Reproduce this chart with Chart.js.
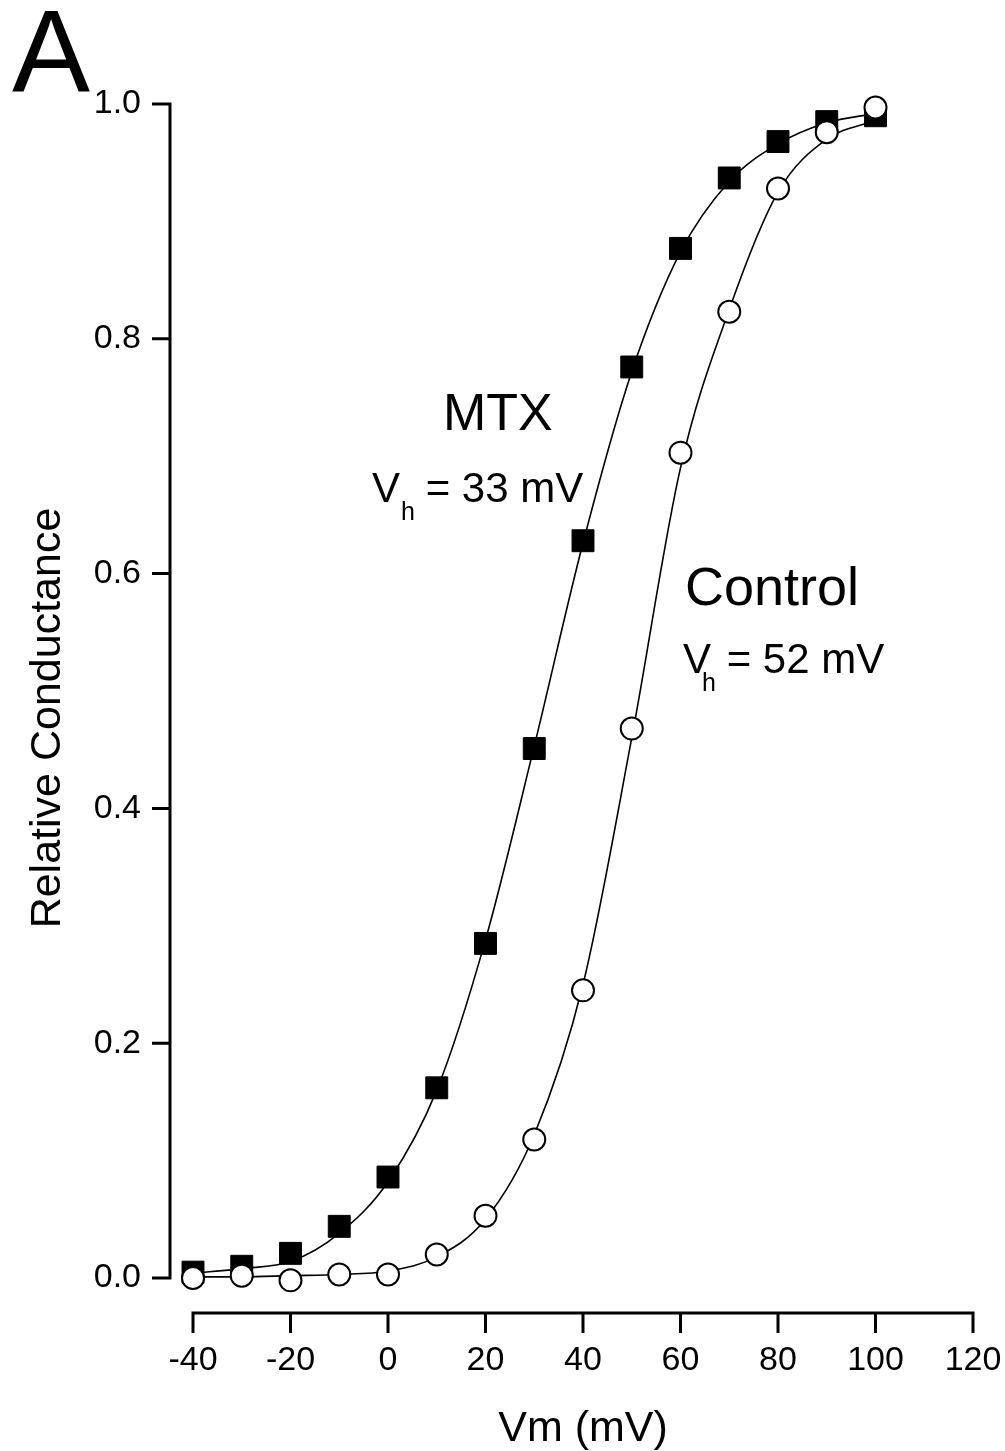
<!DOCTYPE html>
<html>
<head>
<meta charset="utf-8">
<script src="https://cdn.jsdelivr.net/npm/chart.js@4.4.0/dist/chart.umd.min.js"></script>
<style>
  html, body { margin: 0; padding: 0; background: #fff; overflow: hidden; }
  #wrap { width: 1005px; height: 1451px; position: relative; }
  canvas { display: block; }
</style>
</head>
<body>
<div id="wrap"><canvas id="gvChart"></canvas></div>
<script>
// membrane potential steps (mV)
const voltages = [-40, -30, -20, -10, 0, 10, 20, 30, 40, 50, 60, 70, 80, 90, 100];

// measured relative conductance
const controlG = [0.000, 0.002, -0.002, 0.003, 0.003, 0.020, 0.053, 0.118, 0.245, 0.468, 0.703, 0.823, 0.928, 0.976, 0.997];
const mtxG     = [0.005, 0.010, 0.021, 0.044, 0.086, 0.162, 0.285, 0.451, 0.628, 0.776, 0.877, 0.937, 0.968, 0.985, 0.990];

// Boltzmann fit curves at the same voltages
const controlFit = [0.001, 0.001, 0.002, 0.003, 0.006, 0.018, 0.050, 0.122, 0.250, 0.460, 0.690, 0.825, 0.925, 0.970, 0.986];
const mtxFit     = [0.004, 0.008, 0.014, 0.038, 0.082, 0.160, 0.288, 0.453, 0.626, 0.772, 0.874, 0.934, 0.966, 0.984, 0.992];

// axis ticks
const xTicks = [-40, -20, 0, 20, 40, 60, 80, 100, 120];
const yTicks = [0.0, 0.2, 0.4, 0.6, 0.8, 1.0];

const FONT = "'Liberation Sans', Arial, Helvetica, sans-serif";

function toXY(ys) {
    return voltages.map((v, i) => ({ x: v, y: ys[i] }));
}

// axes drawn detached from the plot area, like the original figure
const offsetAxes = {
    id: 'offsetAxes',
    afterDraw(chart) {
        const ctx = chart.ctx;
        const xs = chart.scales.x;
        const ys = chart.scales.y;
        const area = chart.chartArea;
        const axX = area.left - 23;
        const axY = area.bottom + 35;

        ctx.save();
        ctx.strokeStyle = '#000';
        ctx.lineWidth = 3;
        ctx.lineCap = 'butt';

        // y axis
        ctx.beginPath();
        ctx.moveTo(axX, ys.getPixelForValue(yTicks[yTicks.length - 1]) - 1.5);
        ctx.lineTo(axX, ys.getPixelForValue(yTicks[0]) + 1.5);
        yTicks.forEach(t => {
            const py = ys.getPixelForValue(t);
            ctx.moveTo(axX - 18, py);
            ctx.lineTo(axX, py);
        });
        ctx.stroke();

        // x axis
        ctx.beginPath();
        ctx.moveTo(xs.getPixelForValue(xTicks[0]) - 1.5, axY);
        ctx.lineTo(xs.getPixelForValue(xTicks[xTicks.length - 1]) + 1.5, axY);
        xTicks.forEach(t => {
            const px = xs.getPixelForValue(t);
            ctx.moveTo(px, axY);
            ctx.lineTo(px, axY + 20);
        });
        ctx.stroke();

        // y title
        ctx.fillStyle = '#000';
        ctx.font = '43px ' + FONT;
        ctx.textAlign = 'center';
        ctx.textBaseline = 'alphabetic';
        ctx.translate(60, 718);
        ctx.rotate(-Math.PI / 2);
        ctx.fillText('Relative Conductance', 0, 0);
        ctx.restore();
    }
};

function drawVh(ctx, x, y, hx, restX, rest) {
    ctx.font = '42px ' + FONT;
    ctx.fillText('V', x, y);
    ctx.font = '25px ' + FONT;
    ctx.fillText('h', x + hx, y + 18);
    ctx.font = '42px ' + FONT;
    ctx.fillText(rest, x + restX, y);
}

// panel letter and curve labels
const figLabels = {
    id: 'figLabels',
    afterDraw(chart) {
        const ctx = chart.ctx;
        ctx.save();
        ctx.fillStyle = '#000';
        ctx.textBaseline = 'alphabetic';
        ctx.textAlign = 'left';

        ctx.font = '117px ' + FONT;
        ctx.fillText('A', 12, 92);

        ctx.font = '52px ' + FONT;
        ctx.fillText('MTX', 443, 430);
        drawVh(ctx, 372, 502, 29, 42, ' = 33 mV');

        ctx.font = '54px ' + FONT;
        ctx.fillText('Control', 685, 605);
        drawVh(ctx, 683, 673, 19, 32, ' = 52 mV');
        ctx.restore();
    }
};

// invisible tick marks push the labels away from the plot area
const hiddenTicks = len => ({
    display: true,
    drawOnChartArea: false,
    drawTicks: true,
    tickLength: len,
    tickColor: 'rgba(0,0,0,0)'
});

const ctx = document.getElementById('gvChart').getContext('2d');
new Chart(ctx, {
    type: 'scatter',
    data: {
        datasets: [
            {
                label: 'Control',
                data: toXY(controlG),
                pointStyle: 'circle',
                pointRadius: 11,
                borderWidth: 2,
                borderColor: '#000',
                backgroundColor: '#fff',
                showLine: false,
                clip: false,
                order: 0
            },
            {
                label: 'MTX',
                data: toXY(mtxG),
                pointStyle: 'rect',
                pointRadius: 15.5,
                borderWidth: 1,
                borderColor: '#000',
                backgroundColor: '#000',
                showLine: false,
                clip: false,
                order: 1
            },
            {
                label: 'Control fit',
                data: toXY(controlFit),
                showLine: true,
                pointRadius: 0,
                borderColor: '#000',
                borderWidth: 1.6,
                cubicInterpolationMode: 'monotone',
                fill: false,
                clip: false,
                order: 2
            },
            {
                label: 'MTX fit',
                data: toXY(mtxFit),
                showLine: true,
                pointRadius: 0,
                borderColor: '#000',
                borderWidth: 1.6,
                cubicInterpolationMode: 'monotone',
                fill: false,
                clip: false,
                order: 3
            }
        ]
    },
    options: {
        responsive: true,
        maintainAspectRatio: false,
        animation: false,
        layout: {
            padding: { top: 104, right: 32, left: 0, bottom: 0 }
        },
        plugins: {
            legend: { display: false },
            tooltip: { enabled: false }
        },
        scales: {
            x: {
                type: 'linear',
                min: xTicks[0],
                max: xTicks[xTicks.length - 1],
                afterFit: s => { s.height = 173; },
                afterBuildTicks: s => { s.ticks = xTicks.map(v => ({ value: v })); },
                grid: hiddenTicks(60),
                border: { display: false },
                ticks: {
                    color: '#000',
                    font: { family: FONT, size: 34 },
                    padding: 2,
                    maxRotation: 0,
                    callback: v => String(v)
                },
                title: {
                    display: true,
                    text: 'Vm (mV)',
                    color: '#000',
                    font: { family: FONT, size: 43 },
                    padding: { top: 0, bottom: -4 }
                }
            },
            y: {
                type: 'linear',
                min: yTicks[0],
                max: yTicks[yTicks.length - 1],
                afterFit: s => { s.width = 193; },
                afterBuildTicks: s => { s.ticks = yTicks.map(v => ({ value: v })); },
                grid: hiddenTicks(50),
                border: { display: false },
                ticks: {
                    color: '#000',
                    font: { family: FONT, size: 34 },
                    padding: 2,
                    callback: v => v.toFixed(1)
                }
            }
        }
    },
    plugins: [offsetAxes, figLabels]
});
</script>
</body>
</html>
